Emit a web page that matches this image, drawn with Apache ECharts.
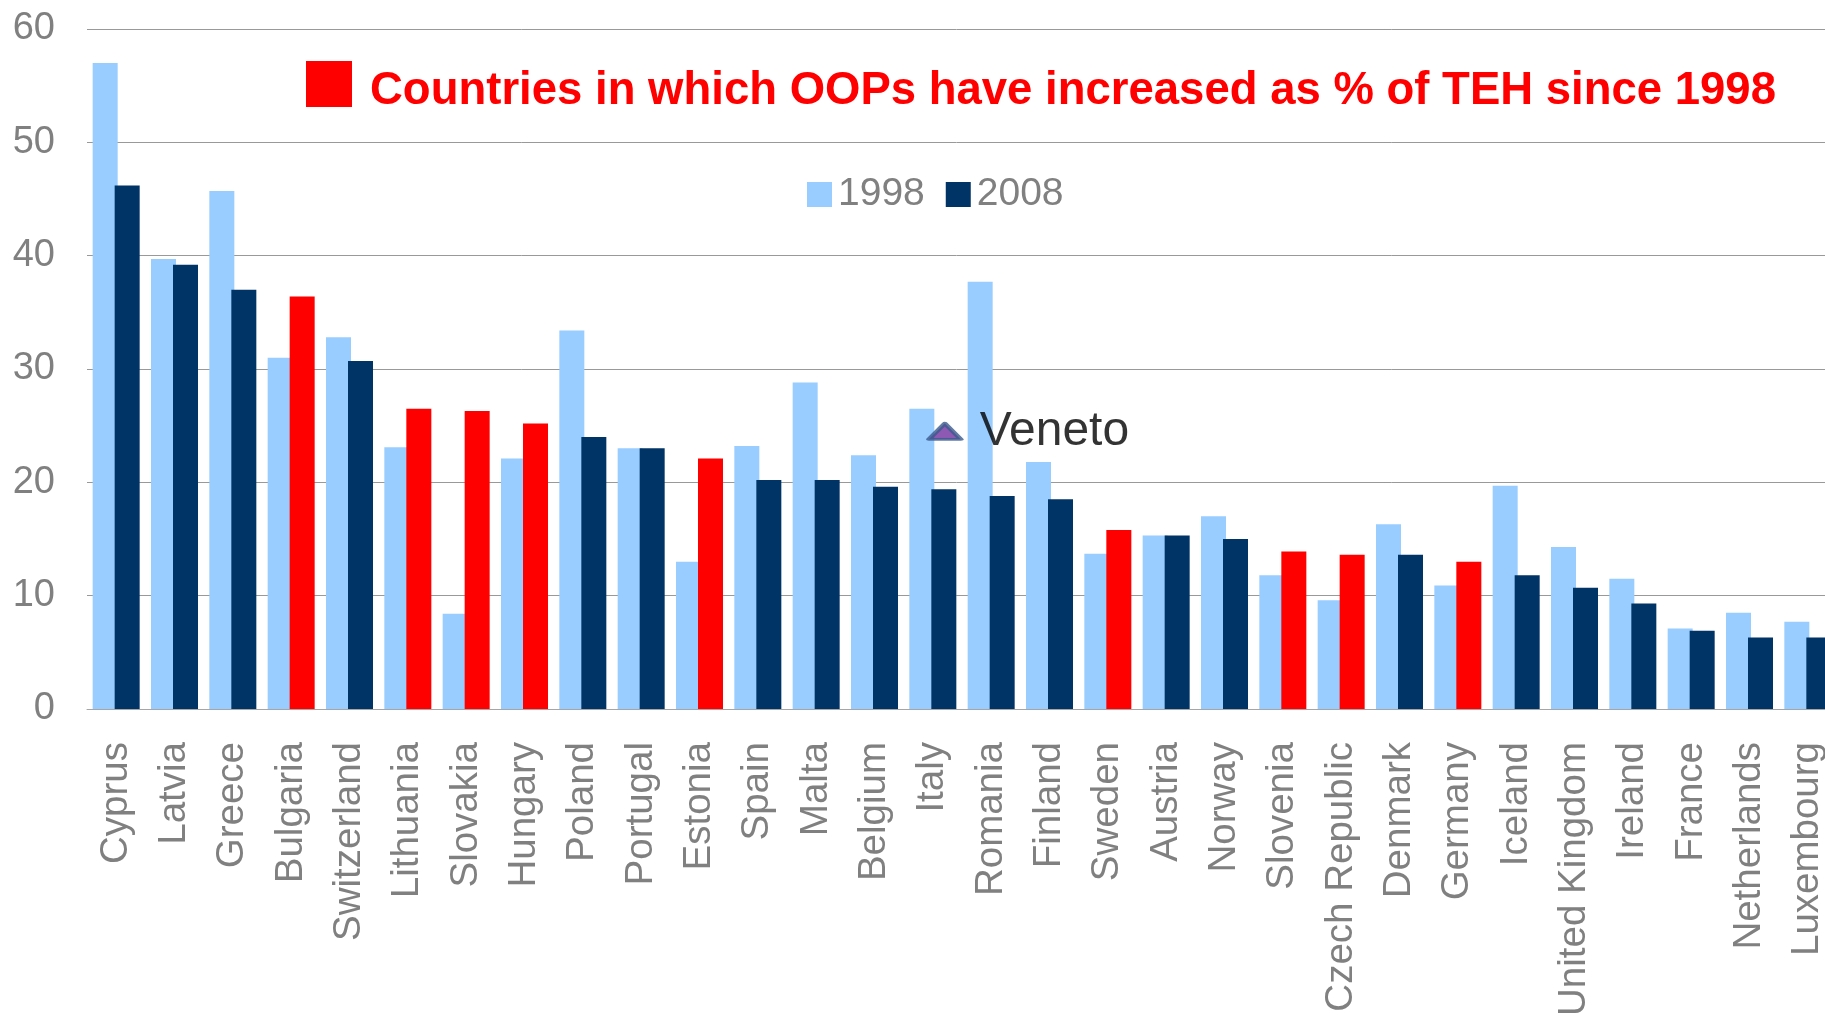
<!DOCTYPE html>
<html>
<head>
<meta charset="utf-8">
<script src="https://cdn.jsdelivr.net/npm/echarts@6/dist/echarts.min.js"></script>
<style>
html,body{margin:0;padding:0;background:#fff;}
#chart{width:1825px;height:1024px;}
</style>
</head>
<body>
<div id="chart"></div>
<script>
var categories = ['Cyprus','Latvia','Greece','Bulgaria','Switzerland','Lithuania','Slovakia','Hungary','Poland','Portugal','Estonia','Spain','Malta','Belgium','Italy','Romania','Finland','Sweden','Austria','Norway','Slovenia','Czech Republic','Denmark','Germany','Iceland','United Kingdom','Ireland','France','Netherlands','Luxembourg'];
var values1998 = [57.0, 39.7, 45.7, 31.0, 32.8, 23.1, 8.4, 22.1, 33.4, 23.0, 13.0, 23.2, 28.8, 22.4, 26.5, 37.7, 21.8, 13.7, 15.3, 17.0, 11.8, 9.6, 16.3, 10.9, 19.7, 14.3, 11.5, 7.1, 8.5, 7.7];
var values2008 = [46.2, 39.2, 37.0, 36.4, 30.7, 26.5, 26.3, 25.2, 24.0, 23.0, 22.1, 20.2, 20.2, 19.6, 19.4, 18.8, 18.5, 15.8, 15.3, 15.0, 13.9, 13.6, 13.6, 13.0, 11.8, 10.7, 9.3, 6.9, 6.3, 6.3];
var increasedCountries = ['Bulgaria','Lithuania','Slovakia','Hungary','Estonia','Sweden','Slovenia','Czech Republic','Germany'];
var yTicks = [0, 10, 20, 30, 40, 50, 60];
var venetoCategory = 'Italy';
var venetoValue = 24.5;
var venetoLabel = 'Veneto';
var highlightText = 'Countries in which OOPs have increased as % of TEH since 1998';

var FONT = '"Liberation Sans", Arial, sans-serif';
var LIGHT = '#99CCFF', DARK = '#003366', RED = '#FF0000', GREY = '#808080';

var data2008 = values2008.map(function (v, i) {
  if (increasedCountries.indexOf(categories[i]) >= 0) {
    return { value: v, itemStyle: { color: RED } };
  }
  return v;
});

var chart = echarts.init(document.getElementById('chart'), null, { renderer: 'canvas' });
chart.setOption({
  animation: false,
  backgroundColor: '#ffffff',
  textStyle: { fontFamily: FONT },
  grid: { left: 87, width: 1750, top: 29, height: 680, containLabel: false, outerBoundsMode: 'none' },
  legend: {
    data: ['1998', '2008'],
    left: 802, top: 170,
    itemWidth: 25, itemHeight: 25, itemGap: 21,
    icon: 'rect',
    textStyle: { color: GREY, fontSize: 39, fontFamily: FONT, padding: [0, 0, 0, 1] },
    selectedMode: false
  },
  xAxis: {
    type: 'category',
    data: categories,
    axisLine: { show: true, lineStyle: { color: '#A6A6A6', width: 1 } },
    axisTick: { show: false },
    axisLabel: { interval: 0, rotate: 90, margin: 33, color: GREY, fontSize: 38.5, fontFamily: FONT }
  },
  yAxis: {
    type: 'value',
    min: yTicks[0], max: yTicks[yTicks.length - 1], interval: 10,
    axisLine: { show: false },
    axisTick: { show: false },
    splitLine: { lineStyle: { color: '#999999', width: 1 } },
    axisLabel: { margin: 32, color: GREY, fontSize: 38, fontFamily: FONT }
  },
  series: [
    {
      name: '1998', type: 'bar', data: values1998,
      barWidth: 25, barGap: '-12%',
      itemStyle: { color: LIGHT }
    },
    {
      name: '2008', type: 'bar', data: data2008,
      barWidth: 25, barGap: '-12%',
      itemStyle: { color: DARK }
    },
    {
      name: 'Veneto', type: 'scatter',
      data: [[venetoCategory, venetoValue]],
      symbol: 'triangle', symbolSize: [32, 16], symbolOffset: [12, 0],
      itemStyle: { color: '#7030A0', borderColor: '#3B5A8C', borderWidth: 4, borderJoin: 'round' },
      label: { show: true, position: 'right', distance: 16, formatter: venetoLabel, color: '#000000', fontSize: 48, fontFamily: FONT },
      z: 10
    }
  ],
  graphic: [
    { type: 'rect', left: 306, top: 61, shape: { width: 46, height: 46 }, style: { fill: RED } },
    { type: 'text', x: 370, y: 91, style: { text: highlightText, fill: RED, font: 'bold 45.5px ' + FONT, verticalAlign: 'middle' } }
  ]
});
</script>
</body>
</html>
